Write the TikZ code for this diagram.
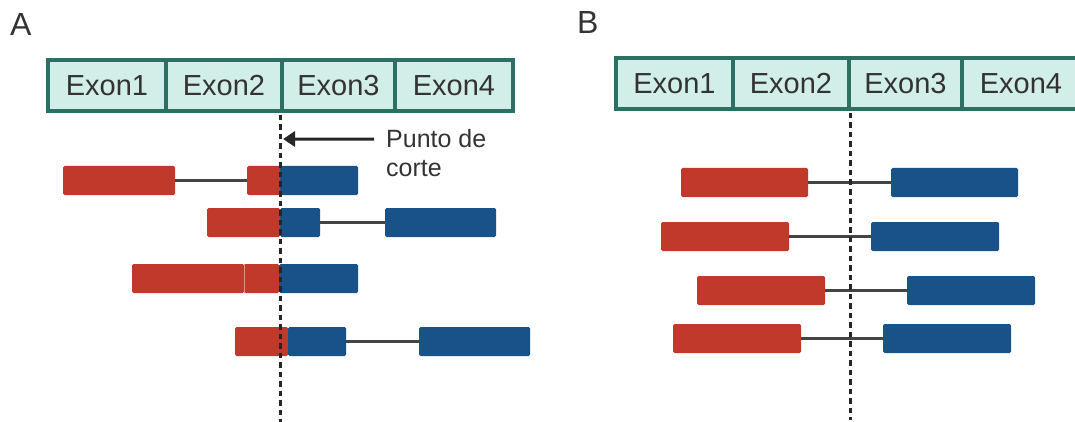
\documentclass[tikz,border=0pt]{standalone}
\usepackage{fontspec}
\setmainfont{Liberation Sans}
\usetikzlibrary{arrows.meta}
\definecolor{exred}{HTML}{C0392B}
\definecolor{exblue}{HTML}{185289}
\definecolor{exfill}{HTML}{D2EEE9}
\definecolor{exline}{HTML}{2B7062}
\definecolor{txt}{HTML}{333333}
\definecolor{lnk}{HTML}{444444}
\begin{document}
\begin{tikzpicture}[x=1pt,y=-1pt,
  seg/.style={inner sep=0pt, outer sep=0pt, minimum height=29pt, anchor=north west, rounded corners=1.5pt},
  rseg/.style={seg, fill=exred},
  bseg/.style={seg, fill=exblue},
  exon/.style={draw=exline, line width=3.5pt, fill=exfill, inner sep=0pt, outer sep=0pt, minimum height=51pt, anchor=north west, text=txt, font=\fontsize{29}{34}\selectfont},
  link/.style={draw=lnk, line width=2.6pt},
  sepline/.style={draw=exred!55!white, line width=0.8pt},
  cutline/.style={draw=black!85, line width=3pt, dash pattern=on 5.5pt off 4pt},
  panel/.style={font=\fontsize{32}{38}\selectfont, text=txt, anchor=base west, inner sep=0pt},
  note/.style={font=\fontsize{25}{29}\selectfont, text=txt, anchor=base west, inner sep=0pt},
  pointer/.style={draw=black!85, line width=3pt, -{Triangle[length=12pt,width=15pt]}}]
\useasboundingbox (0,0) rectangle (1075,422);
\clip (0,0) rectangle (1075,422);

% ---------- Panel A ----------
\node[panel] (labA) at (10,36) {A};
\node[exon, minimum width=118pt] (a1) at (48,60) {Exon1};
\node[exon, minimum width=116pt] (a2) at (166,60) {Exon2};
\node[exon, minimum width=113pt] (a3) at (282,60) {Exon3};
\node[exon, minimum width=118pt] (a4) at (395,60) {Exon4};

% row 1
\node[rseg, minimum width=112pt] (ar1a) at (63,166) {};
\node[rseg, minimum width=33pt] (ar1b) at (247,166) {};
\node[bseg, minimum width=78pt] (ar1c) at (280,166) {};
\draw[link] (ar1a.east) -- (ar1b.west);
% row 2
\node[rseg, minimum width=73pt] (ar2a) at (207,208) {};
\node[bseg, minimum width=40pt] (ar2b) at (280,208) {};
\node[bseg, minimum width=111pt] (ar2c) at (385,208) {};
\draw[link] (ar2b.east) -- (ar2c.west);
% row 3
\node[rseg, minimum width=112pt] (ar3a) at (132,264) {};
\node[rseg, minimum width=35pt] (ar3b) at (244,264) {};
\node[bseg, minimum width=79pt] (ar3c) at (279,264) {};
\draw[sepline] (ar3b.north west) -- (ar3b.south west);
% row 4
\node[rseg, minimum width=53pt] (ar4a) at (235,327) {};
\node[bseg, minimum width=58pt] (ar4b) at (288,327) {};
\node[bseg, minimum width=111pt] (ar4c) at (419,327) {};
\draw[link] (ar4b.east) -- (ar4c.west);

% cut line and label
\coordinate (cutAtop) at (280,115);
\coordinate (cutAbot) at (280,422);
\draw[cutline] (cutAtop) -- (cutAbot);
\node[note] (punto) at (386,148) {Punto de};
\node[note] (corte) at (386,177) {corte};
\coordinate (cutA) at (283,139);
\draw[pointer, shorten <=12pt] (punto.west) -- (cutA);

% ---------- Panel B ----------
\node[panel] (labB) at (577,34) {B};
\node[exon, minimum width=117pt] (b1) at (616,58) {Exon1};
\node[exon, minimum width=116pt] (b2) at (733,58) {Exon2};
\node[exon, minimum width=113pt] (b3) at (849,58) {Exon3};
\node[exon, minimum width=118pt] (b4) at (962,58) {Exon4};

\node[rseg, minimum width=127pt] (br1a) at (681,168) {};
\node[bseg, minimum width=127pt] (br1b) at (891,168) {};
\draw[link] (br1a.east) -- (br1b.west);

\node[rseg, minimum width=128pt] (br2a) at (661,222) {};
\node[bseg, minimum width=128pt] (br2b) at (871,222) {};
\draw[link] (br2a.east) -- (br2b.west);

\node[rseg, minimum width=128pt] (br3a) at (697,276) {};
\node[bseg, minimum width=128pt] (br3b) at (907,276) {};
\draw[link] (br3a.east) -- (br3b.west);

\node[rseg, minimum width=128pt] (br4a) at (673,324) {};
\node[bseg, minimum width=128pt] (br4b) at (883,324) {};
\draw[link] (br4a.east) -- (br4b.west);

\coordinate (cutBtop) at (850,113);
\coordinate (cutBbot) at (850,420);
\draw[cutline] (cutBtop) -- (cutBbot);
\end{tikzpicture}
\end{document}
